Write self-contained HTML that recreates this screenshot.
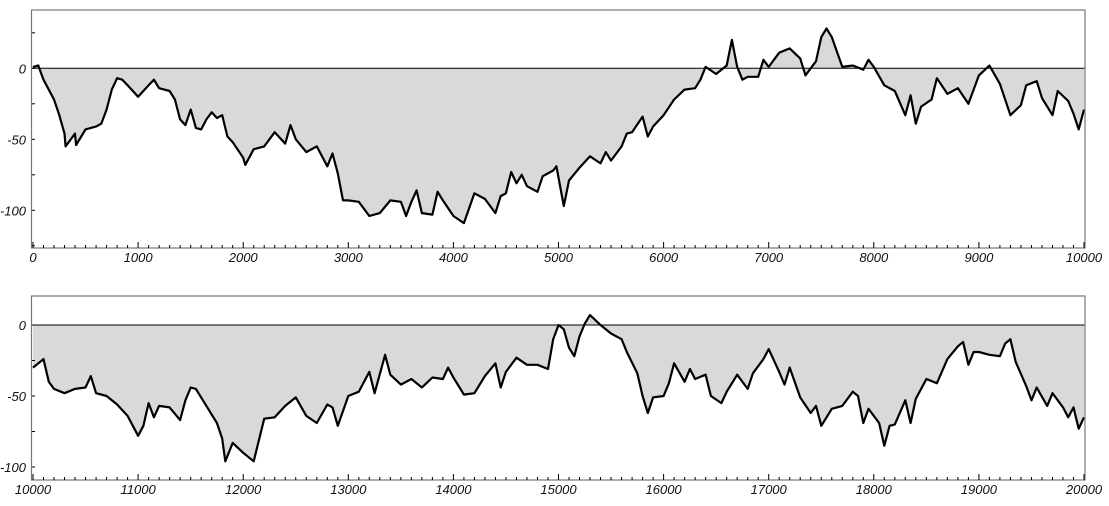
<!DOCTYPE html>
<html><head><meta charset="utf-8"><style>
body{margin:0;background:#fff;width:1109px;height:501px;overflow:hidden}
svg{font-family:"Liberation Sans",sans-serif;font-style:italic;font-size:13px}
</style></head><body>
<svg id="c" width="1109" height="501"></svg>
<script>
const steps1=[0,50,100,200,250,300,310,400,410,500,600,650,700,750,800,850,900,1000,1100,1150,1200,1300,1350,1400,1450,1500,1550,1600,1650,1700,1750,1800,1850,1900,2000,2020,2100,2200,2300,2400,2450,2500,2600,2700,2800,2850,2900,2950,3000,3100,3200,3300,3400,3500,3550,3600,3650,3700,3800,3850,3900,4000,4100,4200,4300,4400,4450,4500,4550,4600,4650,4700,4800,4850,4950,4980,5050,5100,5200,5300,5400,5450,5500,5600,5650,5700,5800,5850,5900,6000,6100,6200,6300,6350,6400,6500,6600,6650,6700,6750,6800,6900,6950,7000,7100,7200,7300,7350,7450,7500,7550,7600,7700,7800,7900,7950,8000,8100,8200,8300,8350,8400,8450,8550,8600,8700,8800,8900,9000,9100,9200,9300,9400,9450,9550,9600,9700,9750,9850,9900,9950,10000];
const vals1=[1,2,-8,-22,-33,-46,-55,-46,-54,-43,-41,-39,-29,-15,-7,-8,-12,-20,-12,-8,-14,-16,-22,-36,-40,-29,-42,-43,-36,-31,-35,-33,-48,-52,-63,-68,-57,-55,-45,-53,-40,-50,-59,-55,-69,-60,-74,-93,-93,-94,-104,-102,-93,-94,-104,-94,-86,-102,-103,-87,-93,-104,-109,-88,-92,-102,-90,-88,-73,-81,-75,-83,-87,-76,-72,-69,-97,-79,-70,-62,-67,-59,-65,-55,-46,-45,-34,-48,-41,-33,-22,-15,-14,-8,1,-4,2,20,1,-8,-6,-6,6,1,11,14,7,-5,5,22,28,22,1,2,-1,6,1,-12,-16,-33,-19,-39,-27,-22,-7,-18,-14,-25,-5,2,-11,-33,-26,-12,-9,-21,-33,-16,-23,-32,-43,-29];
const steps2=[10000,10100,10150,10200,10300,10400,10500,10550,10600,10700,10800,10900,11000,11050,11100,11150,11200,11300,11400,11450,11500,11550,11650,11750,11800,11830,11900,12000,12100,12200,12300,12400,12500,12600,12700,12800,12850,12900,13000,13100,13200,13250,13350,13400,13500,13600,13700,13800,13900,13950,14000,14100,14200,14300,14400,14450,14500,14600,14700,14800,14900,14950,15000,15050,15100,15150,15200,15250,15300,15400,15500,15600,15650,15750,15800,15850,15900,16000,16050,16100,16200,16250,16300,16400,16450,16550,16600,16700,16800,16850,16950,17000,17100,17150,17200,17300,17400,17450,17500,17600,17700,17800,17850,17900,17950,18050,18100,18150,18200,18300,18350,18400,18500,18600,18700,18800,18850,18900,18950,19000,19100,19200,19250,19300,19350,19450,19500,19550,19650,19700,19800,19850,19900,19950,20000];
const vals2=[-30,-24,-40,-45,-48,-45,-44,-36,-48,-50,-56,-64,-78,-71,-55,-65,-57,-58,-67,-53,-44,-45,-57,-69,-80,-96,-83,-90,-96,-66,-65,-57,-51,-64,-69,-56,-58,-71,-50,-47,-33,-48,-21,-35,-42,-38,-44,-37,-38,-30,-37,-49,-48,-36,-27,-44,-33,-23,-28,-28,-31,-10,0,-3,-16,-22,-8,1,7,0,-6,-10,-19,-34,-50,-62,-51,-50,-41,-27,-40,-31,-38,-35,-50,-55,-47,-35,-45,-34,-24,-17,-33,-42,-30,-51,-62,-57,-71,-59,-57,-47,-50,-69,-59,-69,-85,-71,-70,-53,-69,-52,-38,-41,-24,-15,-12,-28,-19,-19,-21,-22,-13,-10,-26,-43,-53,-44,-57,-48,-58,-65,-58,-73,-65];
const yTicks=[0,-50,-100];
const NS="http://www.w3.org/2000/svg";
const svg=document.getElementById('c');
function mk(t,a,p){const e=document.createElementNS(NS,t);for(const k in a)e.setAttribute(k,a[k]);(p||svg).appendChild(e);return e;}
function panel(steps,vals,x0,top,bottom,zeroY,name){
  const sx=s=>33+(s-x0)*0.1051, sy=v=>zeroY-v*1.42;
  const g=mk('g',{});
  
  
  let pts=steps.map((s,i)=>sx(s).toFixed(1)+','+sy(vals[i]).toFixed(1));
  const fill=mk('polygon',{points:sx(steps[0])+','+zeroY+' '+pts.join(' ')+' '+sx(steps[steps.length-1])+','+zeroY,fill:'#d9d9d9',stroke:'none'},g);
  
  
  const zl=mk('line',{x1:32,x2:1085,y1:zeroY,y2:zeroY,stroke:'#000','stroke-width':1},g);
  
  
  const ln=mk('polyline',{points:pts.join(' '),fill:'none',stroke:'#000','stroke-width':2.2,'stroke-linejoin':'round'},g);
  
  
  const fr=mk('rect',{x:31.5,y:top,width:1053.5,height:bottom-top,fill:'none',stroke:'#777','stroke-width':1.2},g);
  
  
  for(let s=x0;s<=x0+10000;s+=100){
    const major=(s%1000===0);
    mk('line',{x1:sx(s),x2:sx(s),y1:bottom,y2:bottom-(major?6:3),stroke:'#000','stroke-width':1},g);
    if(major){const t=mk('text',{x:sx(s),y:bottom+14,'text-anchor':'middle',fill:'#111'},g);t.textContent=s;
      
      }
  }
  for(let v=-125;v<=40;v+=25){const y=sy(v);if(y<top||y>bottom)continue;
    mk('line',{x1:32,x2:35,y1:y,y2:y,stroke:'#000','stroke-width':1},g);}
  yTicks.forEach(v=>{const t=mk('text',{x:26,y:sy(v)+5,'text-anchor':'end',fill:'#111'},g);t.textContent=v;
    
    });
}
panel(steps1,vals1,0,10,248,68.3,'top-panel');
panel(steps2,vals2,10000,296,480,325,'bottom-panel');
</script>
</body></html>
